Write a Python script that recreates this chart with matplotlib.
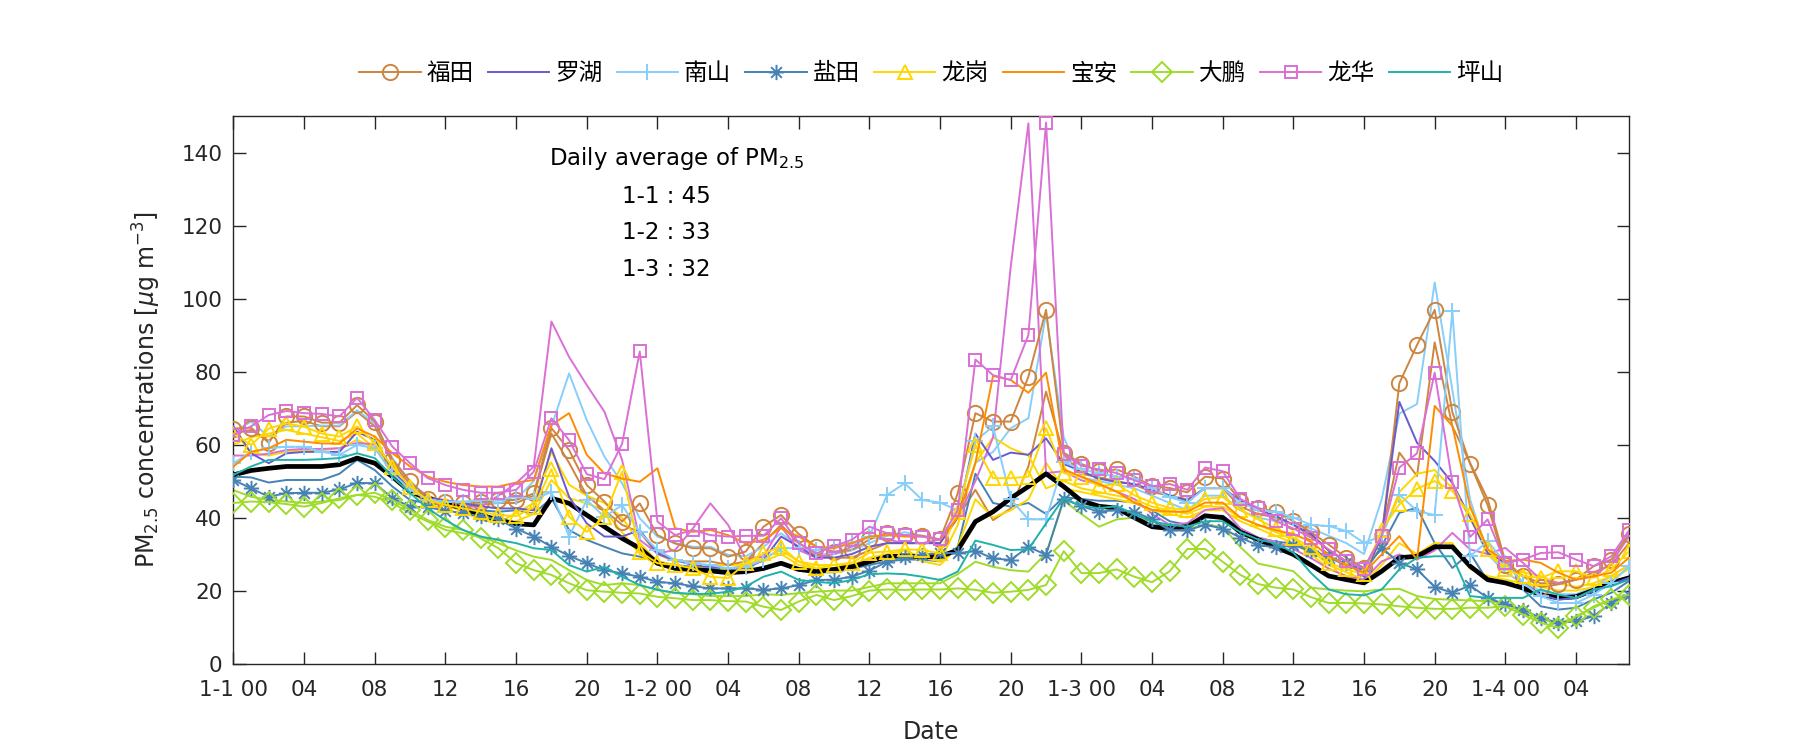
import numpy as np
import matplotlib.pyplot as plt
from matplotlib.path import Path

# hourly PM2.5, 1-1 00 .. 1-4 07 (80 hours)
hours = np.arange(80)

# 福田 (marked station and second station)
futian = [64.4, 64.6, 60.5, 67.7, 67.7, 66, 66, 70.8, 66.3, 55.8, 49.9, 45.1, 44.4, 43.9, 44.2, 44.8, 44.8,
          46.6, 64.5, 58.5, 48.9, 44.4, 38.9, 43.9, 35.2, 32.9, 31.6, 31.6, 29.3, 30.7, 37.5, 40.7,
          35.5, 32, 30.7, 31.1, 34, 35.8, 35.2, 35, 34, 46.6, 68.6, 66.3, 66.3, 78.6, 96.9, 57.8,
          54.7, 52.7, 53.2, 51.2, 48.6, 48.1, 46.9, 51.2, 50.7, 44.6, 42.6, 41.6, 39, 36,
          32.6, 29, 26.2, 34.9, 76.8, 87.3, 96.9, 68.9, 54.8, 43.4, 27.1, 23.9, 21, 21.7, 23, 26.7, 28.5, 35.6]
futian_b = [63, 64, 61, 66, 66.5, 65, 65, 69, 65, 55, 49, 45, 44, 43.5, 43.5, 44, 44,
            46, 63, 55, 46, 42, 38, 36, 30, 28, 28, 28, 27, 28, 33, 38,
            33, 30, 29, 29, 31, 33, 33, 33, 33, 40, 47.6, 39.3, 42.5, 54, 74.5, 57.3,
            52, 51, 50, 49, 47, 46, 45, 48, 48, 43, 41, 40, 38, 35,
            31, 28, 26, 35.4, 57.8, 51.4, 88, 65, 55, 45, 28, 24, 22, 22, 23, 25, 27, 33]

# 罗湖
luohu = [65, 57.6, 54.9, 57.6, 58, 58, 58, 63.5, 61.3, 53, 47.6, 45.3, 44.8, 43.9, 43.1, 42.5, 42.5,
         42, 59, 45.7, 38.4, 34.8, 34.8, 36.6, 30.2, 28.4, 27, 26.5, 26, 26, 28.4, 34.8,
         32, 29, 29, 30, 32, 33, 33, 33, 33, 40, 63, 55.8, 57.8, 57.2, 61.7, 54.7,
         52.7, 50.7, 49.7, 49.2, 47.6, 46.1, 44.6, 48.1, 48.1, 44.6, 42.1, 40.5, 38, 35.5,
         31, 28, 24, 34.9, 71.7, 60.5, 55.5, 49.5, 40, 30.3, 27.6, 22.1, 18.9, 17.5, 18, 19.8, 21.7, 23.5]

# 南山
nanshan = [54.9, 58, 59, 59.4, 59.4, 58, 57.2, 59.9, 59, 52.1, 47.6, 44.8, 44.4, 44.4, 44.8, 44.8, 45.7,
           45, 47, 34.8, 44.8, 40.2, 43.4, 36, 31.1, 28.4, 27.5, 27, 26.1, 26.5, 28.4, 31.6,
           31.6, 31.1, 32, 33, 34.8, 46.2, 49.4, 44.8, 44.1, 42, 61, 65, 45, 39.5, 39.5, 55.2,
           53.2, 52.2, 51.2, 50.7, 48.1, 45.6, 44.1, 48.1, 48.1, 44.1, 42.1, 41.6, 40, 38,
           37.7, 36.3, 33.1, 34.9, 46.3, 41.8, 40.7, 96.6, 29.4, 33.5, 27.6, 22.1, 18.5, 16.6, 16.6, 18.9, 22.1, 26.7]
nanshan_b = [63.5, 66.3, 62.2, 65, 65, 65.2, 65.2, 69.4, 65.8, 56.2, 50, 45.5, 44, 44, 44, 44, 45,
             50, 64.9, 79.5, 66.7, 56.7, 49.4, 39.8, 34.8, 33, 32, 32, 29.8, 29.4, 32, 35.7,
             32, 30, 30, 31, 33, 35, 36, 35, 34, 40, 55, 58, 64.5, 67.2, 96, 62,
             51, 50, 49, 48, 46, 44, 42, 46, 46, 42, 40, 39, 38.5, 37,
             35, 33, 30, 45, 68.5, 71.1, 104.4, 75, 45, 30, 25, 22, 20, 19, 19, 21, 24, 27]

# 盐田
yantian = [50.3, 48, 45.7, 46.7, 46.8, 46.8, 47.7, 49.5, 49.4, 45.3, 43, 42.8, 41.9, 41.2, 40.3, 39.5, 37,
           34.8, 32, 29.5, 27.5, 25.6, 24.7, 23.8, 22.4, 22, 21.2, 20.6, 20.6, 20.6, 20.2, 20.6,
           21.5, 22.9, 23, 23.8, 25.5, 27.9, 29.3, 29.8, 30.4, 30.2, 30.9, 28.8, 28.4, 32, 29.8, 45.1,
           43.1, 41.6, 42.1, 41.6, 39.5, 36.5, 36.5, 38, 37, 34.5, 32.4, 31.9, 32.4, 30.9,
           29, 27.5, 25.5, 31.7, 27.6, 25.8, 21, 19.4, 21.4, 18, 16.2, 14.8, 12.5, 11.2, 11.6, 13, 16.6, 18.9]
yantian_b = [51.2, 51, 49.6, 50.3, 50.3, 50.3, 52, 55.8, 53, 48.5, 44.8, 43.9, 43.5, 42.5, 42, 41.6, 42,
             41.1, 45.3, 36.6, 33.9, 32, 30.2, 29.3, 27.9, 27, 26.5, 26, 25.6, 25.6, 25.6, 27.5,
             25.5, 25, 25, 26, 27, 28, 28.5, 28.5, 28, 32, 52, 44, 43, 44, 41, 45.6,
             45.1, 44.6, 44.6, 44.1, 42, 39, 38, 40.5, 40.5, 37, 34.5, 33.4, 32.9, 31.4,
             29, 27, 25, 32.2, 41.3, 42.7, 33, 26.2, 30.3, 22.6, 22.1, 20.3, 15.7, 14.8, 15.3, 17.6, 19.4, 22.6]

# 龙岗
longgang = [63, 59.9, 64.4, 65.8, 64.9, 63, 62.2, 65, 60.4, 53.9, 48.5, 44.8, 43.5, 42.5, 41.6, 40.7, 40.4,
            42.8, 53.2, 40.2, 36.1, 40.2, 52.6, 30.7, 27.5, 27, 26.1, 23.8, 23.4, 27.5, 30.2, 32,
            27.9, 26.1, 27, 27.6, 30.4, 30.7, 31.3, 31.1, 30.2, 41.6, 59.9, 50.8, 50.8, 51.2, 64.5, 52.2,
            51.2, 48.6, 49.2, 46.1, 44.1, 42.6, 42.1, 45.1, 45.6, 42.1, 39.5, 37, 34.5, 31.9,
            27.6, 25.8, 24.5, 36.7, 43.6, 47.9, 50, 47.3, 40.9, 31.3, 25.8, 24, 23.5, 25.3, 25.3, 23.5, 25.8, 30.8]
longgang_b = [64, 57.6, 57, 58, 58.5, 58.5, 59, 61.3, 59, 54, 48.5, 44.8, 43, 42, 39.3, 38.6, 41.2,
              44, 58, 49, 46, 44, 40, 33, 28, 27, 26, 27, 27, 27, 29, 31,
              28, 27, 27, 27, 29, 30, 31, 29, 28, 38, 55, 62, 59, 57, 48, 50,
              48, 47, 46, 45, 43, 42, 41, 43, 43, 40, 38, 36, 34, 31,
              27, 25, 23, 35, 47, 52, 53, 48, 40, 30, 26, 25, 24, 22, 21, 22, 24, 27]
longgang_c = [60, 62, 63, 64, 63, 62, 61, 63, 59, 53, 47, 44, 42, 41, 40, 39, 39,
              41, 50.3, 45.3, 43.9, 42, 36, 30, 27, 26, 25, 25, 26, 27, 28, 30,
              27, 26, 26, 26, 28, 29, 30, 28, 27, 32, 45, 40, 42, 45, 55, 48,
              47, 46, 45, 44, 42, 41, 40, 42, 42, 39, 37, 35, 33, 30,
              26, 24, 22, 27, 33, 30, 33, 33, 26, 24, 23, 22, 21, 20, 20, 21, 23, 26]

# 宝安
baoan = [54, 58, 59, 61.3, 60.8, 60.3, 60.3, 64.4, 62.2, 57.6, 54, 51.2, 49.8, 48.9, 48.5, 48.5, 49.6,
         50.3, 65.4, 68.6, 57.2, 52.1, 50.7, 49.8, 53.5, 37.1, 36.1, 36.6, 35.2, 32.9, 33.9, 37.1,
         34.8, 32, 31.6, 33, 34.8, 35.2, 34.8, 34.8, 33.9, 40, 55, 78.8, 77.7, 74.2, 79.7, 53.2,
         51.2, 49.2, 47.1, 44.1, 42.1, 41.6, 41.6, 44.1, 44.1, 40, 38, 36.5, 35.5, 33.4,
         29.4, 27, 24.9, 29.9, 34.9, 28.5, 70.6, 65.1, 43.1, 31.3, 28.1, 28.5, 27.6, 24.9, 23, 23.9, 24.9, 29]

# 大鹏
dapeng = [44, 44.4, 44.2, 43.7, 43, 44, 45.3, 46.2, 46.8, 44.8, 42.1, 39.3, 37.5, 36.6, 34.3, 31.6, 27.5,
          25.6, 24.3, 22, 20.1, 19.7, 19.4, 19.2, 18.3, 17.9, 17.4, 17.4, 17.1, 17, 15.6, 14.7,
          17, 18.8, 17.4, 18.5, 20, 20.3, 20.2, 20.3, 20.3, 20.6, 20.2, 19.4, 19.7, 20.2, 21.5, 30.8,
          24.8, 24.8, 25.8, 23.8, 22.3, 25.3, 31.4, 31.4, 27.9, 24.3, 21.8, 20.8, 20.3, 18.2,
          16.6, 16.6, 16.5, 16.2, 15.7, 15.3, 15, 15, 15.3, 15.3, 15.7, 13.4, 11.2, 9.8, 13, 15.3, 17.6, 18.9]
dapeng_b = [47.5, 45.7, 44.8, 44.4, 44, 44.4, 44.8, 46.2, 45.7, 44, 41.2, 38.9, 36.6, 35.7, 34.8, 33, 31,
            29.3, 28.4, 25.6, 22.9, 21.5, 22, 21.5, 20.2, 19.3, 19, 18.5, 18.5, 18.5, 19, 18.8,
            19.3, 19.7, 20, 20, 21, 22, 22, 22, 22, 24.5, 27.9, 26.5, 25.6, 25.2, 30.2, 44.6,
            41, 37.5, 39.5, 40, 39, 37.5, 37, 38, 37.5, 31.9, 27.4, 26.4, 25.3, 20.8,
            20.3, 20, 19.8, 20.3, 20.5, 18.5, 17.7, 17.5, 17.3, 17.1, 16.6, 13.9, 12.1, 11.2, 12.5, 15.7, 17.6, 18]

# 龙华
longhua = [62.6, 65, 68.1, 69.2, 68.6, 68.4, 67.7, 72.8, 66.7, 59.4, 54.9, 50.8, 48.9, 47.6, 46.8, 46.8, 47.6,
           52.6, 67.2, 61.2, 51.9, 50.5, 60.2, 85.5, 38.9, 35.2, 36.6, 35.2, 34.8, 35, 35, 39.8,
           33, 30.2, 32.2, 33.9, 37.5, 35.7, 35.2, 34.8, 34, 42, 83.3, 79, 77.7, 90, 148.2, 57.3,
           54.2, 53.2, 52.2, 50.2, 48.6, 49.2, 47.6, 53.7, 52.7, 45.1, 42.6, 39, 37, 34.5,
           31.3, 28, 26, 35, 53.7, 57.6, 79.7, 49.7, 34.7, 39.5, 27.6, 28.5, 30.3, 30.5, 28.5, 26.7, 29.4, 36.5]
longhua_b = [57, 57, 57.5, 58.5, 58.8, 58.8, 59, 60.5, 60, 54, 49, 46, 44, 43, 43, 46, 49.4,
             54, 93.7, 84, 76.3, 69, 55.8, 33.9, 30.2, 31.1, 37, 43.9, 38, 28.8, 29.3, 37.5,
             31.1, 29, 30, 32, 35, 34, 33, 33, 34, 40, 50, 62, 108.7, 148, 52.2, 52.7,
             50.2, 49.2, 47.1, 45.1, 41, 38, 38.5, 42.1, 42.6, 37, 34.5, 33.4, 31.4, 28.9,
             26, 24, 23, 28, 29.9, 28.5, 31, 35.8, 31.3, 30, 31.7, 27.6, 23, 22.1, 23, 24, 27.6, 34.9]

# 坪山
pingshan = [51.7, 54, 55.8, 55.8, 55.8, 56, 56.3, 57.6, 56.3, 51.2, 46.7, 42.5, 39.3, 36.6, 34.8, 33.9, 33,
            31.6, 31.1, 27, 25.2, 26.5, 23.8, 21.5, 20.2, 19.4, 19.1, 19.1, 19.7, 21.1, 23.8, 25.2,
            22.9, 22.4, 22, 22.9, 24.5, 24.7, 24.5, 23.8, 22.9, 25.2, 33.7, 32.5, 31.1, 31.3, 38.4, 45.3,
            43.1, 42.6, 43.1, 41, 39, 38, 37.5, 39, 39, 36, 34, 32.9, 30.4, 24.8,
            20.3, 19, 18.7, 20.3, 25.8, 29, 29.4, 29.4, 18.5, 18, 18, 18, 20.3, 18.9, 18, 20.3, 21.2, 23]

# city mean
city_mean = [51.7, 52.9, 53.5, 54, 54, 54, 54.5, 56.3, 54.9, 51.2, 47.1, 45.3, 43.9, 42.5, 40.7, 39.3, 38.3,
             38, 45.3, 43.9, 40.7, 37.5, 34.3, 31.6, 27.5, 26.1, 25.8, 25.4, 24.9, 25.2, 26.1, 27.5,
             25.8, 25.2, 25.8, 26.5, 27.9, 29.3, 29.5, 29.3, 29.3, 31.1, 38.9, 41.6, 45.3, 48.5, 52, 48.5,
             44.6, 43.1, 42.6, 40, 37.5, 37, 37.5, 40.5, 40, 36, 34, 31.9, 29.9, 27,
             24, 23, 22.1, 25.3, 29, 29.4, 32, 32, 26.7, 23, 22.1, 20.7, 18.9, 18, 18.3, 20.1, 22.1, 23.5]

days = ['1-1', '1-2', '1-3']
daily_avg = [45, 33, 32]

tick_hours = np.arange(0, 80, 4)
tick_labels = ['1-1 00', '04', '08', '12', '16', '20',
               '1-2 00', '04', '08', '12', '16', '20',
               '1-3 00', '04', '08', '12', '16', '20',
               '1-4 00', '04']

plt.rcParams['font.family'] = ['DejaVu Sans', 'Noto Sans CJK SC']
plt.rcParams['mathtext.fontset'] = 'dejavusans'

# matlab style asterisk (plus and cross)
asterisk = Path([(-1, 0), (1, 0), (0, -1), (0, 1), (-0.7, -0.7), (0.7, 0.7), (-0.7, 0.7), (0.7, -0.7)],
                [Path.MOVETO, Path.LINETO] * 4)

fig = plt.figure(figsize=(18, 7.5), dpi=100)
ax = fig.add_axes([0.1297, 0.1152, 0.7753, 0.7301])

lw = 1.4
mew = 1.4

# extra stations of each district, plain lines
extra = [(futian_b, '#cd853f'), (nanshan_b, '#87cefa'), (yantian_b, '#4682b4'),
         (longgang_b, '#ffd700'), (longgang_c, '#ffd700'), (dapeng_b, '#9fdc2a'),
         (longhua_b, '#da70d6')]
for d, c in extra:
    ax.plot(hours, d, color=c, lw=lw, zorder=2)

ax.plot(hours, city_mean, color='black', lw=3.4, zorder=3)

series = [
    ('福田', futian, '#cd853f', 'o', 11),
    ('罗湖', luohu, '#6a5acd', None, 0),
    ('南山', nanshan, '#87cefa', '+', 12),
    ('盐田', yantian, '#4682b4', asterisk, 11),
    ('龙岗', longgang, '#ffd700', '^', 10),
    ('宝安', baoan, '#ff8c00', None, 0),
    ('大鹏', dapeng, '#9fdc2a', 'D', 10),
    ('龙华', longhua, '#da70d6', 's', 8),
    ('坪山', pingshan, '#20b2aa', None, 0),
]
handles = []
for name, d, c, m, ms in series:
    h, = ax.plot(hours, d, color=c, lw=lw, marker=m, ms=ms, mfc='none', mec=c,
                 mew=mew, label=name, zorder=4)
    handles.append(h)

ax.set_xlim(0, 79)
ax.set_ylim(0, 150)
ax.set_xticks(tick_hours)
ax.set_xticklabels(tick_labels)
ax.set_yticks(np.arange(0, 141, 20))
ax.tick_params(direction='in', length=9, width=1, labelsize=15.5, top=True, right=True,
               color='#262626', labelcolor='#262626')
ax.tick_params(axis='x', pad=12)
ax.tick_params(axis='y', pad=8)
for s in ax.spines.values():
    s.set_linewidth(1)
    s.set_color('#262626')

ax.set_xlabel('Date', fontsize=17, labelpad=14, color='#262626')
ax.set_ylabel('PM$_{2.5}$ concentrations [$\\mu$g m$^{-3}$]', fontsize=17, labelpad=13, color='#262626')

ax.text(25.1, 138.5, 'Daily average of PM$_{2.5}$', ha='center', va='center', fontsize=16.5)
for i, (dname, val) in enumerate(zip(days, daily_avg)):
    ax.text(24.5, 128 - 10 * i, f'{dname} : {val}', ha='center', va='center', fontsize=16.5)

ax.legend(handles=handles, loc='lower center', bbox_to_anchor=(0.5, 1.018), ncol=9,
          frameon=False, fontsize=17, handlelength=2.6, handletextpad=0.25,
          columnspacing=0.6)

fig.savefig('out.png', dpi=100)
